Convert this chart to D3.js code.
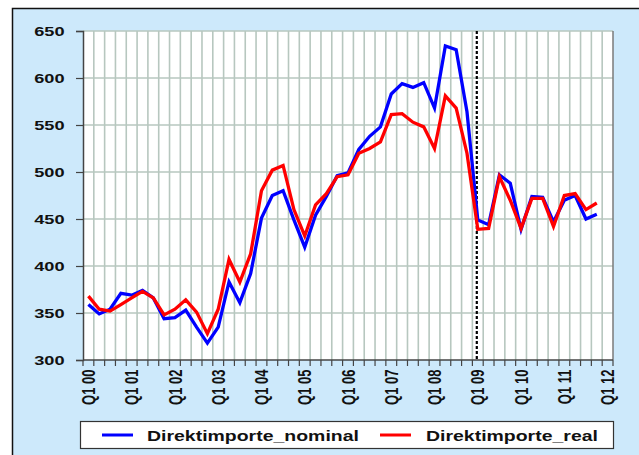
<!DOCTYPE html>
<html>
<head>
<meta charset="utf-8">
<script src="https://cdn.jsdelivr.net/npm/d3@7"></script>
<style>
  body { margin: 0; background: #fff; }
  text { font-family: Arial, "Liberation Sans", sans-serif; font-weight: bold; fill: #111; }
</style>
</head>
<body>
<div class="chart"></div>
<script>
// DATA ------------------------------
const years = ['00','01','02','03','04','05','06','07','08','09','10','11','12'];

// every quarter Q1 00 .. Q1 12 is one category on the axis
const categories = [];
years.forEach(y => {
    ['Q1','Q2','Q3','Q4'].forEach(q => {
        if (y !== '12' || q === 'Q1') categories.push(q + ' ' + y);
    });
});

const nominal = [359, 349, 354, 371, 369, 374, 366, 344, 345, 353, 335, 318,
                 335, 383, 361, 392, 451, 475, 480, 449, 420, 454, 474, 496,
                 499, 524, 538, 548, 583, 594, 590, 595, 568, 634, 630, 564,
                 449, 444, 497, 488, 439, 474, 473, 447, 470, 475, 450, 455];

const real = [368, 354, 352, 359, 366, 373, 366, 348, 354, 364, 351, 328,
              354, 407, 383, 413, 480, 502, 507, 460, 432, 465, 477, 495,
              497, 520, 525, 532, 561, 562, 553, 548, 525, 581, 568, 520,
              439, 440, 495, 470, 440, 472, 472, 442, 475, 477, 460, 467];

const yTicks = [300, 350, 400, 450, 500, 550, 600, 650];
const breakQuarter = 'Q1 09';

const series = [
    {name: 'Direktimporte_nominal', values: nominal, color: '#0000ff'},
    {name: 'Direktimporte_real', values: real, color: '#ff0000'}
];

// CHART INIT ------------------------------
const margin = {top: 31, left: 83, right: 26, bottom: 95};
const width = 639 - margin.left - margin.right,
    height = 455 - margin.top - margin.bottom;
const stretch = 1.4; // the reference text is drawn wide

const root = d3.select('.chart')
    .append('svg')
    .attr('width', 639)
    .attr('height', 455);

// light blue chart area with black frame
root.append('rect')
    .attr('x', 12.5).attr('y', 8.5)
    .attr('width', 700).attr('height', 500)
    .attr('fill', '#cde9fb')
    .attr('stroke', '#111')
    .attr('stroke-width', 1.5);

const svg = root.append('g')
    .attr('transform', 'translate(' + margin.left + ',' + margin.top + ')');

const xScale = d3.scaleBand()
    .domain(categories)
    .range([0, width]);

const yScale = d3.scaleLinear()
    .domain([300, 650])
    .range([height, 0]);

svg.append('rect')
    .attr('width', width)
    .attr('height', height)
    .attr('fill', '#fff');

// vertical gridlines at category boundaries
const bounds = d3.range(categories.length + 1).map(i => i * xScale.step());
svg.append('g')
    .selectAll('line')
    .data(bounds.slice(1, -1))
    .enter()
    .append('line')
    .attr('x1', d => d).attr('x2', d => d)
    .attr('y1', 0).attr('y2', height)
    .attr('stroke', '#b7c7bf')
    .attr('stroke-width', 1.6);

// horizontal gridlines
svg.append('g')
    .selectAll('line')
    .data(yTicks.slice(1))
    .enter()
    .append('line')
    .attr('x1', 0).attr('x2', width)
    .attr('y1', d => yScale(d)).attr('y2', d => yScale(d))
    .attr('stroke', '#b7c7bf')
    .attr('stroke-width', 1.6);

// right edge of plot area
svg.append('line')
    .attr('x1', width).attr('x2', width)
    .attr('y1', 0).attr('y2', height)
    .attr('stroke', '#7a7a7a')
    .attr('stroke-width', 1.5);

// y axis
const yAxis = d3.axisLeft(yScale)
    .tickValues(yTicks)
    .tickSize(7)
    .tickFormat(d3.format('d'));

const yG = svg.append('g')
    .attr('class', 'axis y-axis')
    .call(yAxis);
yG.select('.domain').attr('stroke', '#444').attr('stroke-width', 1.5);
yG.selectAll('.tick line').attr('stroke', '#444').attr('stroke-width', 1.2);
yG.selectAll('.tick text')
    .attr('x', null).attr('dy', null)
    .attr('transform', 'translate(-18.5,4.7) scale(' + stretch + ',1)')
    .style('font-size', '13px')
    .attr('fill', '#111');

// x axis: ticks at boundaries, labels every 4th quarter
const xG = svg.append('g')
    .attr('class', 'axis x-axis')
    .attr('transform', 'translate(0,' + height + ')');

xG.append('line')
    .attr('x1', 0).attr('x2', width)
    .attr('stroke', '#444').attr('stroke-width', 1.5);

xG.selectAll('line.tick')
    .data(bounds)
    .enter()
    .append('line')
    .attr('class', 'tick')
    .attr('x1', d => d).attr('x2', d => d)
    .attr('y1', 0).attr('y2', 6)
    .attr('stroke', '#444').attr('stroke-width', 1.2);

xG.selectAll('text')
    .data(categories.filter((d, i) => i % 4 === 0))
    .enter()
    .append('text')
    .attr('transform', d => 'translate(' + (xScale(d) + xScale.bandwidth() / 2) + ',9.5) scale(' + stretch + ',1) rotate(-90)')
    .attr('text-anchor', 'end')
    .attr('dy', '0.36em')
    .style('font-size', '13px')
    .text(d => d);

// dashed marker line
svg.append('line')
    .attr('x1', xScale(breakQuarter) + xScale.bandwidth() / 2 - 1)
    .attr('x2', xScale(breakQuarter) + xScale.bandwidth() / 2 - 1)
    .attr('y1', 0).attr('y2', height)
    .attr('stroke', '#000')
    .attr('stroke-width', 2.2)
    .attr('stroke-dasharray', '3,2');

// lines
const line = d3.line()
    .x((d, i) => xScale(categories[i]) + xScale.bandwidth() / 2)
    .y(d => yScale(d));

svg.selectAll('.series')
    .data(series)
    .enter()
    .append('path')
    .attr('class', 'series')
    .attr('d', d => line(d.values))
    .attr('fill', 'none')
    .attr('stroke', d => d.color)
    .attr('stroke-width', 3.3)
    .attr('stroke-linejoin', 'miter');

// legend
const legend = root.append('g');
legend.append('rect')
    .attr('x', 80.5).attr('y', 421.5)
    .attr('width', 533).attr('height', 27)
    .attr('fill', '#fff')
    .attr('stroke', '#333')
    .attr('stroke-width', 1.2);

const legendPos = [{lx: 102, tx: 147}, {lx: 380, tx: 426}];
const items = legend.selectAll('g.item')
    .data(series)
    .enter()
    .append('g')
    .attr('class', 'item');

items.append('line')
    .attr('x1', (d, i) => legendPos[i].lx)
    .attr('x2', (d, i) => legendPos[i].lx + 31)
    .attr('y1', 435).attr('y2', 435)
    .attr('stroke', d => d.color)
    .attr('stroke-width', 3);

items.append('text')
    .attr('transform', (d, i) => 'translate(' + legendPos[i].tx + ',440.5) scale(' + stretch + ',1)')
    .style('font-size', '13.9px')
    .text(d => d.name);
</script>
</body>
</html>
